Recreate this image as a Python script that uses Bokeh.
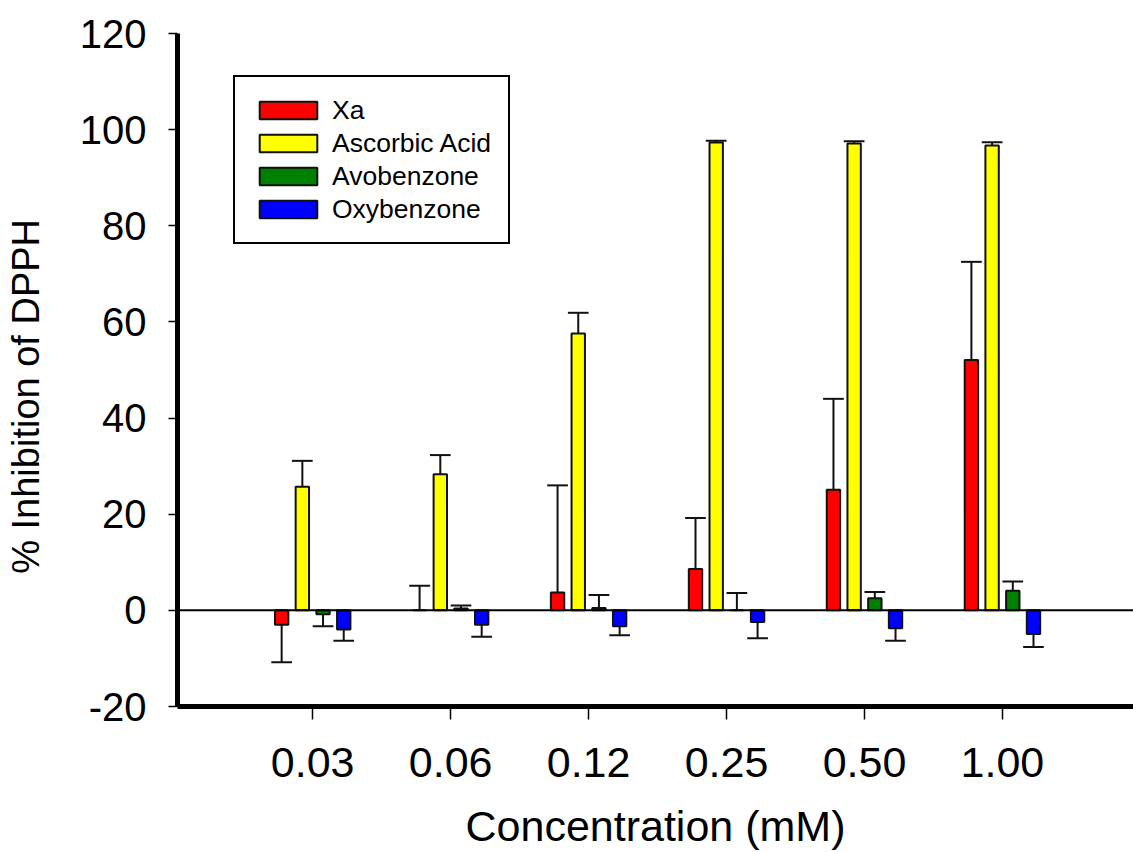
from bokeh.plotting import figure
from bokeh.models import (FixedTicker, Span, Legend, LegendItem, Range1d, ColumnDataSource)
from bokeh.embed import file_html
from bokeh.resources import INLINE

# ---- data ----
concentrations = ["0.03", "0.06", "0.12", "0.25", "0.50", "1.00"]
series_names = ["Xa", "Ascorbic Acid", "Avobenzone", "Oxybenzone"]
xa = [-3.0, 0.0, 3.7, 8.6, 25.1, 52.1]
xa_err = [7.8, 5.1, 22.3, 10.6, 18.9, 20.4]
ascorbic = [25.7, 28.3, 57.6, 97.3, 97.1, 96.7]
ascorbic_err = [5.4, 4.0, 4.3, 0.4, 0.5, 0.7]
avobenzone = [-0.8, 0.4, 0.5, 0.0, 2.5, 4.1]
avobenzone_err = [2.5, 0.6, 2.7, 3.6, 1.3, 1.9]
oxybenzone = [-4.0, -3.0, -3.3, -2.4, -3.7, -4.9]
oxybenzone_err = [2.3, 2.5, 1.9, 3.4, 2.6, 2.7]
y_ticks = [-20, 0, 20, 40, 60, 80, 100, 120]
y_tick_labels = ["-20", "0", "20", "40", "60", "80", "100", "120"]

values = [xa, ascorbic, avobenzone, oxybenzone]
errors = [xa_err, ascorbic_err, avobenzone_err, oxybenzone_err]
colors = ["#FF0000", "#FFFF00", "#008000", "#0000FF"]
offsets = [-0.225, -0.075, 0.075, 0.225]
bar_w = 0.097
cap_w = 0.15

FONT = "Liberation Sans"

p = figure(frame_width=956, frame_height=673, output_backend="svg", toolbar_location=None,
           x_range=Range1d(-0.98, 5.95), y_range=Range1d(-20, 120),
           min_border_left=177, min_border_right=0, min_border_top=33,
           min_border_bottom=146)
p.outline_line_color = None
p.xgrid.visible = False
p.ygrid.visible = False
p.background_fill_color = "white"
p.border_fill_color = "white"

p.add_layout(Span(location=0, dimension="width", line_color="black", line_width=2))

renderers = []
for vals, errs, col, off in zip(values, errors, colors, offsets):
    xs = [i + off for i in range(len(concentrations))]
    ends = [v + e if v >= 0 else v - e for v, e in zip(vals, errs)]
    src = ColumnDataSource(dict(x=xs, top=vals, end=ends,
                                cl=[x - cap_w / 2 for x in xs],
                                cr=[x + cap_w / 2 for x in xs]))
    p.segment(x0="x", y0="top", x1="x", y1="end", source=src,
              line_color="#111111", line_width=2)
    p.segment(x0="cl", y0="end", x1="cr", y1="end", source=src,
              line_color="#111111", line_width=2)
    r = p.vbar(x="x", top="top", bottom=0, width=bar_w, source=src,
               fill_color=col, line_color="#111111", line_width=2)
    renderers.append(r)

legend = Legend(items=[LegendItem(label=n, renderers=[r]) for n, r in zip(series_names, renderers)],
                location=(56, 462), orientation="vertical",
                glyph_width=72, glyph_height=22, label_height=32, spacing=1,
                padding=17, margin=0, label_standoff=8,
                label_text_font=FONT, label_text_font_size="26.5px",
                label_text_color="black",
                border_line_color="black", border_line_width=2, border_line_alpha=1.0,
                background_fill_color="white", background_fill_alpha=1.0)
p.add_layout(legend)

# y axis
yax = p.yaxis[0]
yax.ticker = FixedTicker(ticks=y_ticks)
yax.major_label_overrides = {t: s for t, s in zip(y_ticks, y_tick_labels)}
yax.axis_line_width = 5
yax.axis_line_color = "black"
yax.major_tick_out = 9
yax.major_tick_in = 0
yax.minor_tick_line_color = None
yax.major_tick_line_width = 1.5
yax.major_tick_line_color = "black"
yax.major_label_text_font = FONT
yax.major_label_text_font_size = "40px"
yax.major_label_text_color = "black"
yax.major_label_standoff = 22
yax.axis_label = "% Inhibition of DPPH" + "\u00a0" * 5
yax.axis_label_text_font = FONT
yax.axis_label_text_font_size = "38px"
yax.axis_label_text_font_style = "normal"
yax.axis_label_text_color = "black"
yax.axis_label_standoff = 30

# x axis
xax = p.xaxis[0]
xax.ticker = FixedTicker(ticks=list(range(len(concentrations))))
xax.major_label_overrides = {i: c for i, c in enumerate(concentrations)}
xax.axis_line_width = 5
xax.axis_line_color = "black"
xax.major_tick_out = 13
xax.major_tick_in = 0
xax.minor_tick_line_color = None
xax.major_tick_line_width = 1.5
xax.major_tick_line_color = "black"
xax.major_label_text_font = FONT
xax.major_label_text_font_size = "43px"
xax.major_label_text_color = "black"
xax.major_label_standoff = 28
xax.axis_label = "Concentration (mM)"
xax.axis_label_text_font = FONT
xax.axis_label_text_font_size = "43px"
xax.axis_label_text_font_style = "normal"
xax.axis_label_text_color = "black"
xax.axis_label_standoff = 22

open("out.html", "w").write(file_html(p, INLINE))
